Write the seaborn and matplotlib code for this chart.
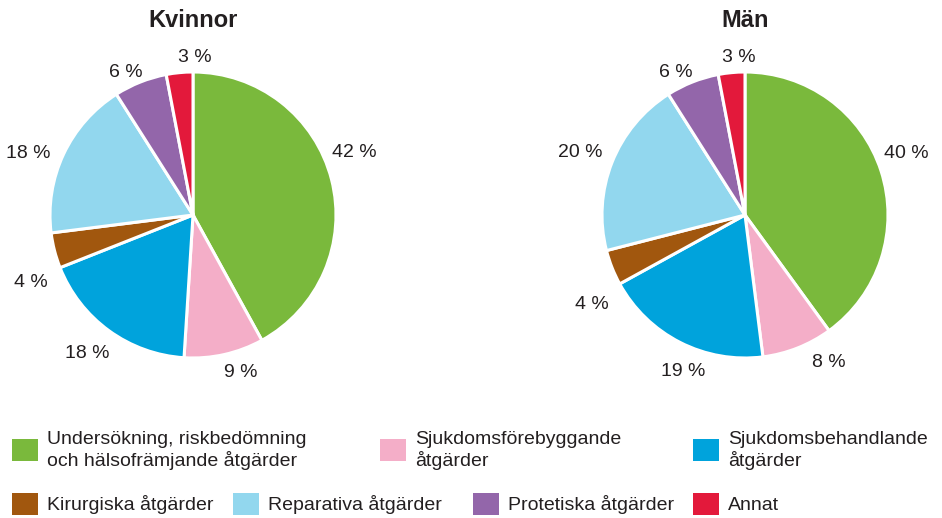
import numpy as np
import matplotlib
matplotlib.use("Agg")
import matplotlib.pyplot as plt
from matplotlib.patches import Patch
import seaborn as sns

# Category names (legend order = slice order, clockwise from the top)
categories = [
    "Undersökning, riskbedömning\noch hälsofrämjande åtgärder",
    "Sjukdomsförebyggande\nåtgärder",
    "Sjukdomsbehandlande\nåtgärder",
    "Kirurgiska åtgärder",
    "Reparativa åtgärder",
    "Protetiska åtgärder",
    "Annat",
]
colors = ["#7ab93c", "#f4aec8", "#00a3dc", "#a1570e", "#92d7ee", "#9366aa", "#e3193b"]

kvinnor = [42, 9, 18, 4, 18, 6, 3]
man = [40, 8, 19, 4, 20, 6, 3]
titles = ["Kvinnor", "Män"]

sns.set_theme(style="white")
plt.rcParams["font.family"] = ["Liberation Sans", "DejaVu Sans"]
palette = sns.color_palette(colors)

W, H = 942, 518
fig = plt.figure(figsize=(W / 100, H / 100), dpi=100)

# per-slice label placement: distance (in radii) and angular nudge (degrees)
label_style = {
    "Kvinnor": dict(dist=[1.21, 1.15, 1.22, 1.23, 1.23, 1.10, 1.10],
                    shift=[6.7, 4.1, -1.5, 8.0, 4.6, 3.5, -6.1]),
    "Män": dict(dist=[1.21, 1.19, 1.18, 1.24, 1.23, 1.11, 1.10],
                shift=[2.9, 8.0, 5.5, 8.6, 0.9, 4.2, -3.2]),
}


def pie_axes(cx, cy, r):
    return fig.add_axes([(cx - r) / W, (H - cy - r) / H, 2 * r / W, 2 * r / H])


for (cx, cy), values, title in zip([(193, 215), (745, 215)], [kvinnor, man], titles):
    ax = pie_axes(cx, cy, 143)
    wedges, _ = ax.pie(
        values,
        colors=palette,
        startangle=90,
        counterclock=False,
        wedgeprops=dict(edgecolor="white", linewidth=2.2),
    )
    ax.set_xlim(-1, 1)
    ax.set_ylim(-1, 1)
    ax.set_aspect("equal")
    ax.axis("off")
    st = label_style[title]
    for w, v, d, s in zip(wedges, values, st["dist"], st["shift"]):
        ang = np.deg2rad((w.theta1 + w.theta2) / 2 + s)
        ax.text(d * np.cos(ang), d * np.sin(ang), f"{v} %",
                ha="center", va="center", fontsize=14, color="#231f20",
                clip_on=False)
    ax.text(0, 1.375, title, ha="center", va="center_baseline", fontsize=17,
            fontweight="bold", color="#231f20", clip_on=False)

# Legend: each entry placed on its own so the two rows line up as drawn
positions = [(12, 450), (380, 450), (693, 450), (12, 504), (233, 504), (473, 504), (693, 504)]
for cat, col, (x, y) in zip(categories, palette, positions):
    fig.legend(
        handles=[Patch(facecolor=col, edgecolor="none")],
        labels=[cat],
        loc="center left",
        bbox_to_anchor=(x / W, 1 - y / H),
        frameon=False,
        borderpad=0,
        borderaxespad=0,
        handlelength=1.34,
        handleheight=1.34,
        handletextpad=0.45,
        fontsize=14,
        labelspacing=0,
        labelcolor="#231f20",
    )

fig.savefig("out.png", dpi=100)
